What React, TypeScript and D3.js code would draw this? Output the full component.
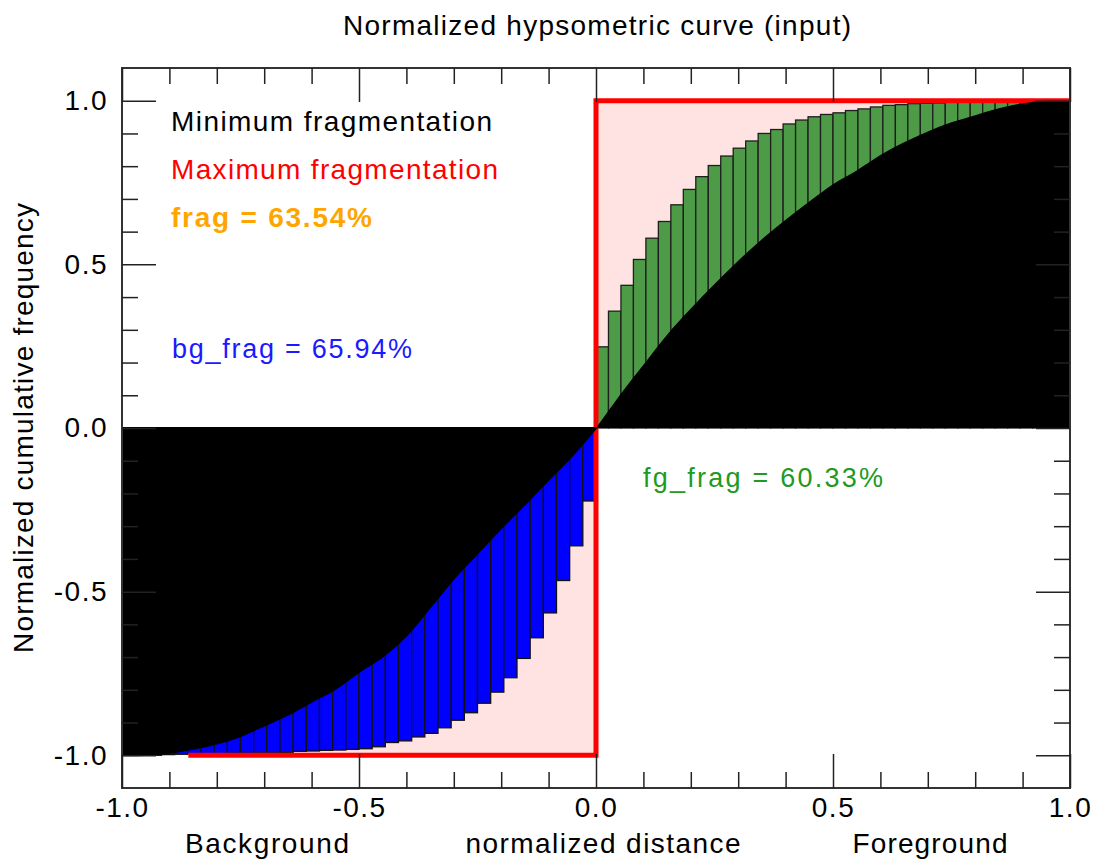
import React, { useEffect, useRef } from "react";
import * as d3 from "d3";

// foreground histogram (normalized distance 0..1), cumulative
const fgValues = [
  0.248, 0.357, 0.436, 0.515, 0.58, 0.631, 0.682, 0.729, 0.768, 0.802, 0.831, 0.855, 0.877,
  0.9, 0.912, 0.929, 0.941, 0.951, 0.958, 0.963, 0.97, 0.975, 0.981, 0.986, 0.988, 0.991,
  0.992, 0.993, 0.995, 0.997, 0.998, 0.999, 0.999, 1, 1, 1, 1, 1,
];

// background histogram (normalized distance -1..0), cumulative
const bgValues = [
  -1, -1, -1, -0.998, -0.997, -0.995, -0.995, -0.995, -0.994, -0.994, -0.993, -0.993,
  -0.992, -0.988, -0.987, -0.985, -0.984, -0.982, -0.98, -0.974, -0.961, -0.956, -0.944,
  -0.933, -0.916, -0.893, -0.87, -0.841, -0.807, -0.763, -0.704, -0.641, -0.565, -0.466,
  -0.36, -0.223,
];

// minimum fragmentation curve
const minFgX = [0, 0.05, 0.1, 0.15, 0.2, 0.25, 0.3, 0.35, 0.4, 0.45, 0.5, 0.55, 0.6, 0.65, 0.7, 0.75, 0.8, 0.85, 0.9, 0.95, 1];
const minFgY = [0, 0.1, 0.193, 0.285, 0.365, 0.44, 0.511, 0.577, 0.636, 0.692, 0.745, 0.787, 0.834, 0.873, 0.906, 0.934, 0.956, 0.977, 0.992, 1, 1];
const minBgX = [-1, -0.95, -0.9, -0.85, -0.8, -0.75, -0.7, -0.65, -0.6, -0.55, -0.5, -0.45, -0.4, -0.35, -0.3, -0.25, -0.2, -0.15, -0.1, -0.05, 0];
const minBgY = [-1, -0.999, -0.993, -0.98, -0.964, -0.941, -0.909, -0.876, -0.836, -0.797, -0.745, -0.698, -0.634, -0.548, -0.46, -0.383, -0.306, -0.233, -0.158, -0.084, 0];

// maximum fragmentation step
const maxX = [-0.86, 0, 0, 1];
const maxY = [-1, -1, 1, 1];

const majorTicks = [-1, -0.5, 0, 0.5, 1];

const title = "Normalized hypsometric curve (input)";
const yTitle = "Normalized cumulative frequency";
const xTitles = ["Background", "normalized distance", "Foreground"];
const minLabel = "Minimum fragmentation";
const maxLabel = "Maximum fragmentation";
const fragLabel = "frag = 63.54%";
const bgLabel = "bg_frag = 65.94%";
const fgLabel = "fg_frag = 60.33%";

const FONT = "'Liberation Sans', Arial, Helvetica, sans-serif";

export default function App() {
  const ref = useRef<SVGSVGElement>(null);

  useEffect(() => {
    const svg = d3.select(ref.current);
    svg.selectAll("*").remove();

    const x = d3.scaleLinear().domain([-1, 1]).range([122, 1070]);
    const y = d3.scaleLinear().domain([-1.1, 1.1]).range([788, 68]);

    const fgBand = d3.scaleBand<number>().domain(d3.range(fgValues.length)).range([x(0), x(1)]);
    const bgBand = d3.scaleBand<number>().domain(d3.range(bgValues.length)).range([x(-1), x(0)]);

    const maxPts = maxX.map((v, i) => [v, maxY[i]] as [number, number]);

    // pink area between max fragmentation and zero
    svg.append("path")
      .datum(maxPts)
      .attr("d", d3.area<[number, number]>().x((d) => x(d[0])).y0(y(0)).y1((d) => y(d[1])))
      .attr("fill", "#ffe2e2");

    // green bars
    svg.append("g")
      .selectAll("rect")
      .data(fgValues)
      .join("rect")
      .attr("x", (d, i) => fgBand(i))
      .attr("width", fgBand.bandwidth())
      .attr("y", (d) => y(d))
      .attr("height", (d) => y(0) - y(d))
      .attr("fill", "#4e9b47")
      .attr("stroke", "#1e1e1e")
      .attr("stroke-width", 1.3);

    // blue bars
    svg.append("g")
      .selectAll("rect")
      .data(bgValues)
      .join("rect")
      .attr("x", (d, i) => bgBand(i))
      .attr("width", bgBand.bandwidth())
      .attr("y", y(0))
      .attr("height", (d) => y(d) - y(0))
      .attr("fill", "#0000ff")
      .attr("stroke", "#111")
      .attr("stroke-width", 1.3);

    // red step line
    svg.append("path")
      .datum(maxPts)
      .attr("d", d3.line<[number, number]>().x((d) => x(d[0])).y((d) => y(d[1])))
      .attr("fill", "none")
      .attr("stroke", "#ff0000")
      .attr("stroke-width", 5);

    // minimum fragmentation (black areas)
    const fgCurve = minFgX.map((v, i) => [v, minFgY[i]] as [number, number]);
    const bgCurve = minBgX.map((v, i) => [v, minBgY[i]] as [number, number]);
    const area = d3.area<[number, number]>()
      .x((d) => x(d[0]))
      .y0(y(0))
      .y1((d) => y(d[1]))
      .curve(d3.curveMonotoneX);
    svg.append("path").datum(fgCurve).attr("d", area).attr("fill", "#000");
    svg.append("path").datum(bgCurve).attr("d", area).attr("fill", "#000")
      .attr("stroke", "#000").attr("stroke-width", 2);

    // frame
    svg.append("rect")
      .attr("x", x(-1))
      .attr("y", y(1.1))
      .attr("width", x(1) - x(-1))
      .attr("height", y(-1.1) - y(1.1))
      .attr("fill", "none")
      .attr("stroke", "#333")
      .attr("stroke-width", 2);

    const isMajor = (t: number) => Math.abs(t * 2 - Math.round(t * 2)) < 1e-9;
    const xMinor = x.ticks(20).filter((t) => !isMajor(t));
    const yMinor = y.ticks(20).filter((t) => !isMajor(t) && Math.abs(t) < 1.05);
    const fmt = (d: d3.NumberValue) => (+d).toFixed(1);
    const noLabel = () => "";

    const styleAxis = (g: d3.Selection<SVGGElement, unknown, null, undefined>) => {
      g.select(".domain").remove();
      g.selectAll(".tick line").attr("stroke", "#222").attr("stroke-width", 1.5);
      g.attr("font-size", 28).attr("font-family", FONT);
      g.selectAll(".tick text").attr("fill", "#000").attr("letter-spacing", 1.5);
    };

    const bottom = y(-1.1);
    const top = y(1.1);
    const left = x(-1);
    const right = x(1);

    svg.append("g").attr("transform", `translate(0,${bottom})`)
      .call(d3.axisBottom(x).tickValues(majorTicks).tickSizeInner(-34).tickSizeOuter(0).tickPadding(9).tickFormat(fmt))
      .call(styleAxis);
    svg.append("g").attr("transform", `translate(0,${bottom})`)
      .call(d3.axisBottom(x).tickValues(xMinor).tickSizeInner(-16).tickSizeOuter(0).tickFormat(noLabel))
      .call(styleAxis);
    svg.append("g").attr("transform", `translate(0,${top})`)
      .call(d3.axisTop(x).tickValues(majorTicks).tickSizeInner(-34).tickSizeOuter(0).tickFormat(noLabel))
      .call(styleAxis);
    svg.append("g").attr("transform", `translate(0,${top})`)
      .call(d3.axisTop(x).tickValues(xMinor).tickSizeInner(-16).tickSizeOuter(0).tickFormat(noLabel))
      .call(styleAxis);
    svg.append("g").attr("transform", `translate(${left},0)`)
      .call(d3.axisLeft(y).tickValues(majorTicks).tickSizeInner(-34).tickSizeOuter(0).tickPadding(14).tickFormat(fmt))
      .call(styleAxis);
    svg.append("g").attr("transform", `translate(${left},0)`)
      .call(d3.axisLeft(y).tickValues(yMinor).tickSizeInner(-16).tickSizeOuter(0).tickFormat(noLabel))
      .call(styleAxis);
    svg.append("g").attr("transform", `translate(${right},0)`)
      .call(d3.axisRight(y).tickValues(majorTicks).tickSizeInner(-34).tickSizeOuter(0).tickFormat(noLabel))
      .call(styleAxis);
    svg.append("g").attr("transform", `translate(${right},0)`)
      .call(d3.axisRight(y).tickValues(yMinor).tickSizeInner(-16).tickSizeOuter(0).tickFormat(noLabel))
      .call(styleAxis);

    // texts
    const text = (
      s: string, tx: number, ty: number, len: number, color: string,
      size = 28, anchor = "start", weight = "normal"
    ) =>
      svg.append("text")
        .attr("x", tx)
        .attr("y", ty)
        .attr("fill", color)
        .attr("font-family", FONT)
        .attr("font-size", size)
        .attr("font-weight", weight)
        .attr("text-anchor", anchor)
        .attr("textLength", len)
        .attr("lengthAdjust", "spacing")
        .text(s);

    text(title, 597, 35, 508, "#000", 28, "middle");
    text(minLabel, 171, 131, 321, "#000");
    text(maxLabel, 171, 179, 327, "#ff0000");
    text(fragLabel, 171, 227, 201, "#ffa500", 28, "start", "bold");
    text(bgLabel, 172, 358, 240, "#1a1aff", 27);
    text(fgLabel, 643, 487, 240, "#229a22", 27);

    text(xTitles[0], 267, 853, 164, "#000", 28, "middle");
    text(xTitles[1], 603, 853, 275, "#000", 28, "middle");
    text(xTitles[2], 930, 853, 155, "#000", 28, "middle");

    svg.append("text")
      .attr("transform", `translate(33,${y(0)}) rotate(-90)`)
      .attr("fill", "#000")
      .attr("font-family", FONT)
      .attr("font-size", 28)
      .attr("text-anchor", "middle")
      .attr("textLength", 450)
      .attr("lengthAdjust", "spacing")
      .text(yTitle);
  }, []);

  return (
    <svg
      ref={ref}
      width={1098}
      height={861}
      style={{ position: "absolute", left: 0, top: 0, background: "#fff" }}
    />
  );
}
